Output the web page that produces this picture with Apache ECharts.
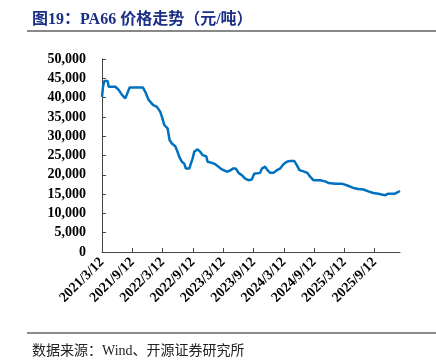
<!DOCTYPE html>
<html>
<head>
<meta charset="utf-8">
<script src="https://cdn.jsdelivr.net/npm/echarts@6/dist/echarts.min.js"></script>
<style>
  html, body { margin: 0; padding: 0; background: #fff; }
  #chart { width: 436px; height: 364px; }
</style>
</head>
<body>
<div id="chart"></div>
<script>
// months since 2021/3/12
const monthOffsets = [
  0, 0.2, 0.46, 1.12, 1.32, 2.64, 3.3, 3.63, 3.96, 4.3, 4.61, 4.94, 5.47, 8.11,
  8.57, 9.23, 10.09, 10.88, 11.54, 11.87, 12.33, 12.99, 13.38, 13.84, 14.5, 14.96,
  15.29, 15.82, 16.28, 16.61, 17.27, 17.6, 17.93, 18.26, 18.92, 19.45, 19.91, 20.63,
  20.9, 21.75, 22.41, 23.07, 23.73, 24.72, 25.38, 25.91, 26.5, 27.03, 27.69, 28.35,
  29.0, 29.66, 30.13, 31.31, 31.64, 32.3, 32.76, 33.29, 33.95, 34.61, 35.27, 35.93,
  36.59, 37.24, 38.04, 38.57, 39.09, 39.88, 40.67, 41.2, 41.86, 43.18, 44.17, 44.83,
  46.14, 47.46, 48.45, 49.77, 50.76, 51.75, 52.74, 53.72, 54.71, 56.03, 56.69, 58.01, 59.0
]
const prices = [
  40200, 42800, 44300, 44300, 42800, 42800, 42000, 41500, 40700, 40300, 39800, 40300, 42600, 42600,
  41500, 39400, 38100, 37600, 36300, 35000, 32900, 32000, 29000, 28100, 27400, 25950,
  24650, 23400, 22900, 21600, 21600, 22900, 24200, 25950, 26600, 25950, 25100, 24800,
  23400, 23100, 22750, 22100, 21400, 20800, 21100, 21600, 21600, 20500, 19900, 19000,
  18600, 18800, 20300, 20500, 21600, 22100, 21200, 20500, 20500, 21200, 21600, 22750,
  23400, 23600, 23600, 22500, 21200, 20900, 20500, 19500, 18600, 18600, 18300, 17900,
  17700, 17700, 17300, 16600, 16300, 16200, 15700, 15300, 15100, 14700, 15100, 15100, 15800
]
const tickLabels = [
  '2021/3/12', '2021/9/12', '2022/3/12', '2022/9/12', '2023/3/12',
  '2023/9/12', '2024/3/12', '2024/9/12', '2025/3/12', '2025/9/12'
]
const tickMonths = tickLabels.map((_, i) => i * 6)

const chart = echarts.init(document.getElementById('chart'), null, { renderer: 'canvas' })

const axisFont = { fontFamily: 'Liberation Serif', fontWeight: 'bold', color: '#000', fontSize: 14 }

chart.setOption({
  animation: false,
  title: [
    {
      text: '图19：PA66 价格走势（元/吨）',
      left: 27, top: 7,
      textStyle: { fontFamily: 'Liberation Serif, Noto Sans CJK SC', fontWeight: 'bold', fontSize: 16, color: '#1c2f86' },
    },
    {
      text: '数据来源：Wind、开源证券研究所',
      left: 27, top: 339,
      textStyle: { fontFamily: 'Liberation Serif, Noto Sans CJK SC', fontWeight: 'normal', fontSize: 14, color: '#222' },
    },
  ],
  graphic: [
    { type: 'line', shape: { x1: 27, y1: 31, x2: 436, y2: 31 }, style: { stroke: '#888', lineWidth: 2 } },
    { type: 'line', shape: { x1: 27, y1: 333, x2: 436, y2: 333 }, style: { stroke: '#666', lineWidth: 1.5 } },
  ],
  grid: { left: 102, right: 36, top: 59, bottom: 112 },
  xAxis: {
    type: 'value',
    min: 0, max: 59, interval: 6,
    axisLine: { lineStyle: { color: '#444', width: 1 } },
    axisTick: { inside: true, length: 4, customValues: tickMonths, lineStyle: { color: '#444' } },
    splitLine: { show: false },
    axisLabel: {
      ...axisFont,
      rotate: 45,
      margin: 8,
      customValues: tickMonths,
      formatter: v => tickLabels[Math.round(v / 6)] || '',
    },
  },
  yAxis: {
    type: 'value',
    min: 0, max: 50000, interval: 5000,
    axisLine: { show: true, lineStyle: { color: '#444', width: 1 } },
    axisTick: { show: true, inside: true, length: 4, lineStyle: { color: '#444' } },
    splitLine: { show: false },
    axisLabel: {
      ...axisFont,
      margin: 16,
      formatter: v => v.toLocaleString('en-US'),
    },
  },
  series: [{
    type: 'line',
    data: monthOffsets.map((m, i) => [m, prices[i]]),
    showSymbol: false,
    lineStyle: { color: '#0070C0', width: 2.5 },
    itemStyle: { color: '#0070C0' },
  }],
})
</script>
</body>
</html>
